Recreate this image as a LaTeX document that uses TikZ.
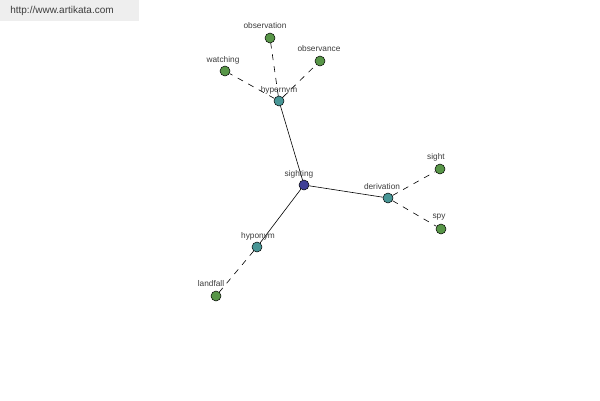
\documentclass[tikz,border=0pt]{standalone}
\usepackage{fontspec}
\setmainfont{Liberation Sans}
\begin{document}
\begin{tikzpicture}[x=1pt,y=-1pt,
  dot/.style={circle,draw=black,line width=0.5pt,minimum size=10pt,inner sep=0pt},
  leaf/.style={dot,fill={rgb,255:red,88;green,150;blue,72}},
  mid/.style={dot,fill={rgb,255:red,72;green,150;blue,150}},
  root/.style={dot,fill={rgb,255:red,64;green,64;blue,150}},
  lbl/.style={font=\fontsize{8.3}{9}\selectfont,text={rgb,255:red,60;green,60;blue,60},inner sep=0pt},
  solidedge/.style={line width=0.6pt,black},
  dashedge/.style={line width=0.6pt,black,dash pattern=on 6pt off 6pt}]
\useasboundingbox (0,0) rectangle (600,400);
\fill[fill={rgb,255:red,238;green,238;blue,238}] (0,0) rectangle (139,21);
\node[font=\fontsize{10}{11}\selectfont,text={rgb,255:red,60;green,60;blue,60},inner sep=0pt] (wm) at (62,11) {http://www.artikata.com};

\node[root] (sighting) at (304,185) {};
\node[mid] (hypernym) at (279,101) {};
\node[mid] (derivation) at (388,198) {};
\node[mid] (hyponym) at (257,247) {};
\node[leaf] (observation) at (270,38) {};
\node[leaf] (observance) at (320,61) {};
\node[leaf] (watching) at (225,71) {};
\node[leaf] (sight) at (440,169) {};
\node[leaf] (spy) at (441,229) {};
\node[leaf] (landfall) at (216,296) {};

\draw[solidedge] (sighting) -- (hypernym);
\draw[solidedge] (sighting) -- (derivation);
\draw[solidedge] (sighting) -- (hyponym);
\draw[dashedge] (hypernym) -- (watching);
\draw[dashedge] (hypernym) -- (observation);
\draw[dashedge] (hypernym) -- (observance);
\draw[dashedge] (derivation) -- (sight);
\draw[dashedge] (derivation) -- (spy);
\draw[dashedge] (hyponym) -- (landfall);

\node[lbl] (l-sighting) at (299,174) {sighting};
\node[lbl] (l-hypernym) at (279,90) {hypernym};
\node[lbl] (l-derivation) at (382,187) {derivation};
\node[lbl] (l-hyponym) at (258,236) {hyponym};
\node[lbl] (l-observation) at (265,26) {observation};
\node[lbl] (l-observance) at (319,49) {observance};
\node[lbl] (l-watching) at (223,60) {watching};
\node[lbl] (l-sight) at (436,157) {sight};
\node[lbl] (l-spy) at (439,217) {spy};
\node[lbl] (l-landfall) at (211,284) {landfall};
\end{tikzpicture}
\end{document}
